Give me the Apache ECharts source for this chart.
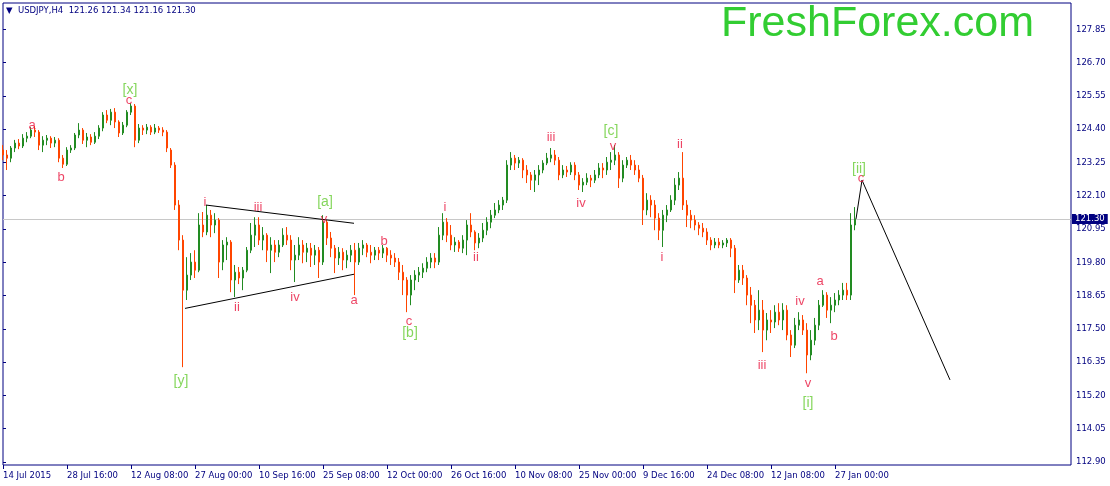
<!DOCTYPE html>
<html><head><meta charset="utf-8">
<script src="https://cdn.jsdelivr.net/npm/echarts@6/dist/echarts.min.js"></script>
<style>html,body{margin:0;padding:0;background:#fff}#c{width:1110px;height:486px}</style>
</head><body><div id="c"></div><script>
// ---- data ----
const xTickLabels = ['14 Jul 2015','28 Jul 16:00','12 Aug 08:00','27 Aug 00:00','10 Sep 16:00','25 Sep 08:00','12 Oct 00:00','26 Oct 16:00','10 Nov 08:00','25 Nov 00:00','9 Dec 16:00','24 Dec 08:00','12 Jan 08:00','27 Jan 00:00'];
const yTickLabels = ['112.90','114.05','115.20','116.35','117.50','118.65','119.80','120.95','122.10','123.25','124.40','125.55','126.70','127.85'];
const yTickStep = 1.15;
const barsPerLabel = 16;
const totalSlots = 268;
const lastPrice = 121.30;
const headerText = 'USDJPY,H4  121.26 121.34 121.16 121.30';

const opens = [123.68,123.51,123.40,123.75,123.92,123.82,124.09,124.16,124.37,124.30,
123.85,124.02,124.09,123.92,124.02,123.40,123.19,123.68,123.75,124.20,
124.37,124.02,124.13,123.95,124.16,124.44,124.89,124.71,124.99,124.65,
124.27,124.54,124.99,125.20,124.02,124.44,124.37,124.47,124.30,124.44,
124.37,124.30,123.68,123.16,121.78,120.57,118.84,119.36,119.81,119.53,
121.09,120.85,121.43,121.09,121.26,119.81,120.40,120.50,119.19,119.46,
119.26,119.53,120.22,120.74,121.09,120.57,120.74,120.22,120.40,120.15,
120.40,120.74,120.57,119.88,120.05,120.40,120.15,120.29,120.05,120.22,
119.81,121.19,120.64,120.29,119.95,120.15,119.88,120.05,120.22,119.81,
120.29,120.40,120.15,120.05,120.22,120.12,120.29,120.05,119.95,119.81,
119.46,119.19,118.67,119.19,119.36,119.46,119.60,119.81,119.95,119.81,
120.74,121.19,120.74,120.40,120.50,120.29,120.57,121.09,120.85,120.47,
120.64,120.91,121.19,121.43,121.61,121.78,121.95,123.16,123.40,123.23,
123.33,122.99,122.82,122.64,122.82,122.99,123.23,123.40,123.51,123.33,
122.82,122.99,122.92,123.16,122.82,122.47,122.57,122.71,122.64,122.82,
123.06,122.99,123.26,123.33,123.51,122.71,123.16,123.33,123.16,122.99,
122.71,121.61,121.95,121.78,121.33,120.91,121.43,121.61,121.95,122.47,
122.71,121.78,121.43,121.26,121.09,120.98,120.85,120.57,120.40,120.50,
120.40,120.47,120.57,120.29,119.19,119.53,119.26,118.67,118.32,117.81,
118.15,117.46,117.81,117.74,118.08,117.81,118.15,117.29,116.94,117.63,
117.81,117.46,116.60,117.11,117.63,118.32,118.67,118.15,118.32,118.50,
118.67,118.84,118.67,121.09];
const closes = [123.51,123.40,123.75,123.92,123.82,124.09,124.16,124.37,124.30,123.85,
124.02,124.09,123.92,124.02,123.40,123.19,123.68,123.75,124.20,124.37,
124.02,124.13,123.95,124.16,124.44,124.89,124.71,124.99,124.65,124.27,
124.54,124.99,125.20,124.02,124.44,124.37,124.47,124.30,124.44,124.37,
124.30,123.75,123.16,121.78,120.57,118.84,119.36,119.81,119.53,121.09,
120.85,121.43,121.09,121.26,119.81,120.40,120.50,119.19,119.46,119.26,
119.53,120.22,120.74,121.09,120.57,120.74,120.22,120.40,120.15,120.40,
120.74,120.57,119.88,120.05,120.40,120.15,120.29,120.05,120.22,119.81,
121.19,120.64,120.29,119.95,120.15,119.88,120.05,120.22,119.81,120.29,
120.40,120.15,120.05,120.22,120.12,120.29,120.05,119.95,119.81,119.46,
119.19,118.67,119.19,119.36,119.46,119.60,119.81,119.95,119.81,120.74,
121.19,120.74,120.40,120.50,120.29,120.57,121.09,120.85,120.47,120.64,
120.91,121.19,121.43,121.61,121.78,121.95,123.16,123.40,123.23,123.33,
122.99,122.82,122.64,122.82,122.99,123.23,123.40,123.51,123.33,122.82,
122.99,122.92,123.16,122.82,122.47,122.57,122.71,122.64,122.82,123.06,
122.99,123.26,123.33,123.51,122.71,123.16,123.33,123.16,122.99,122.71,
121.61,121.95,121.78,121.33,120.91,121.43,121.61,121.95,122.47,122.71,
121.78,121.43,121.26,121.09,120.98,120.85,120.57,120.40,120.50,120.40,
120.47,120.57,120.29,119.19,119.53,119.26,118.67,118.32,117.81,118.15,
117.46,117.81,117.74,118.08,117.81,118.15,117.29,116.94,117.63,117.81,
117.46,116.60,117.11,117.63,118.32,118.67,118.15,118.32,118.50,118.67,
118.84,118.67,121.09,121.30];
const lows = [123.33,122.99,123.26,123.61,123.71,123.75,123.95,124.09,124.13,123.68,
123.61,123.85,123.75,123.78,123.26,123.06,123.13,123.58,123.68,124.09,
123.89,123.78,123.85,123.89,124.06,124.33,124.61,124.54,124.44,124.13,
124.20,124.47,124.89,123.78,123.92,124.20,124.23,124.20,124.23,124.27,
124.16,123.61,123.06,121.61,120.22,116.18,118.50,119.19,119.26,119.46,
120.67,120.74,120.67,120.81,119.26,119.53,119.88,118.77,118.60,119.05,
118.84,119.46,120.12,120.33,120.40,120.22,119.81,119.43,119.81,119.98,
120.33,120.40,119.53,119.12,119.88,119.77,119.81,119.64,119.71,119.26,
119.71,120.40,119.98,119.43,119.71,119.53,119.60,119.81,118.67,119.71,
120.05,119.98,119.77,119.88,119.88,119.95,119.81,119.71,119.64,119.19,
118.67,118.08,118.32,118.84,119.12,119.26,119.46,119.60,119.60,119.71,
120.57,120.50,120.22,120.16,120.16,120.12,120.05,120.67,120.22,120.29,
120.50,120.74,120.98,121.33,121.50,121.61,121.85,122.99,122.99,123.06,
122.71,122.54,122.30,122.23,122.47,122.88,123.16,123.26,123.16,122.64,
122.71,122.75,122.82,122.64,122.30,122.23,122.47,122.40,122.54,122.71,
122.71,122.82,122.99,123.16,122.37,122.57,123.06,122.99,122.82,122.57,
121.09,121.43,121.36,120.91,120.57,120.33,121.19,121.54,121.78,122.30,
121.61,121.02,120.98,120.91,120.74,120.67,120.40,120.22,120.29,120.29,
120.29,120.33,119.98,118.74,119.09,119.02,118.32,117.70,117.36,117.46,
116.70,117.11,117.36,117.53,117.63,117.46,117.11,116.53,116.84,117.46,
117.29,115.97,116.42,116.94,117.46,118.26,117.88,117.70,118.08,118.32,
118.50,118.50,118.50,120.91];
const highs = [123.85,123.68,123.82,124.03,124.06,124.23,124.30,124.47,124.51,124.37,
124.16,124.20,124.16,124.13,124.09,123.51,123.78,123.85,124.27,124.61,
124.44,124.27,124.23,124.30,124.54,124.99,125.06,125.10,125.13,124.71,
124.65,125.06,125.30,125.27,124.58,124.54,124.58,124.54,124.58,124.51,
124.47,124.37,123.75,123.26,121.95,120.74,119.98,120.12,120.22,121.50,
121.54,121.78,121.61,121.50,121.33,120.57,120.67,120.57,119.71,119.64,
119.64,120.33,121.16,121.36,121.36,121.02,120.81,120.67,120.57,120.57,
120.98,121.02,120.74,120.40,120.67,120.57,120.47,120.47,120.40,120.33,
121.43,121.26,120.85,120.40,120.33,120.29,120.22,120.40,120.47,120.47,
120.57,120.47,120.40,120.33,120.33,120.40,120.33,120.22,120.12,119.95,
119.71,119.29,119.36,119.53,119.64,119.77,119.98,120.12,120.12,121.02,
121.50,121.33,121.09,120.67,120.57,120.74,121.26,121.50,120.91,120.81,
121.16,121.36,121.61,121.85,121.95,122.06,123.33,123.61,123.51,123.44,
123.40,123.16,122.92,122.99,123.16,123.33,123.58,123.75,123.68,123.44,
123.16,123.13,123.26,123.26,122.92,122.71,122.88,122.82,122.99,123.23,
123.23,123.44,123.61,123.85,123.61,123.33,123.44,123.51,123.33,123.16,
122.82,122.19,122.12,121.95,121.50,121.61,121.78,122.12,122.71,122.92,
123.61,121.95,121.61,121.43,121.19,121.16,120.98,120.67,120.64,120.64,
120.57,120.64,120.64,120.40,119.71,119.71,119.36,118.95,118.50,118.84,
118.50,118.05,118.15,118.32,118.39,118.39,118.32,117.46,117.88,118.08,
117.98,117.70,117.46,117.88,118.50,118.84,118.77,118.60,118.74,118.84,
119.09,119.09,121.50,121.71];

// wave annotations: [bar position, price, text]
const redWaveLabels = [
 [7.25,124.54,'a'],[14.5,122.75,'b'],[31.5,125.41,'c'],
 [50.5,121.88,'i'],[58.5,118.26,'ii'],[63.75,121.71,'iii'],[73,118.60,'iv'],[80.25,121.30,'v'],
 [87.75,118.50,'a'],[95.25,120.53,'b'],[101.5,117.77,'c'],
 [110.5,121.71,'i'],[118.25,119.98,'ii'],[137,124.13,'iii'],[144.5,121.85,'iv'],[152.5,123.82,'v'],
 [164.75,119.98,'i'],[169.25,123.89,'ii'],[189.75,116.25,'iii'],[199.25,118.46,'iv'],[201.25,115.63,'v'],
 [204.25,119.15,'a'],[207.75,117.25,'b'],[214.5,122.71,'c']
];
const greenWaveLabels = [
 [31.75,125.75,'[x]'],[44.5,115.70,'[y]'],[80.5,121.88,'[a]'],[101.75,117.36,'[b]'],
 [152,124.34,'[c]'],[201.25,114.94,'[i]'],[214,123.02,'[ii]']
];
const triangleUpper = [[50.75,121.78],[87.75,121.15]];
const triangleLower = [[45.5,118.21],[87.75,119.39]];
const projection = [[213.25,121.30],[214.75,122.64],[236.75,115.74]];

// ---- build ----
const categories = Array.from({length: totalSlots}, (_, i) =>
  (i % barsPerLabel === 0 && i / barsPerLabel < xTickLabels.length) ? xTickLabels[i / barsPerLabel] : 'bar' + i);
const showTick = (i) => i % barsPerLabel === 0 && i / barsPerLabel < xTickLabels.length;
const candles = opens.map((o, i) => [o, closes[i], lows[i], highs[i]]);
const yVals = yTickLabels.map(Number);
const navy = '#000080';
const axisFont = {fontFamily: 'DejaVu Sans', fontSize: 8.5, color: navy};

const labelSeries = (arr, color, size) => ({
  type: 'scatter', xAxisIndex: 1, symbolSize: 1, itemStyle: {color: 'rgba(0,0,0,0)'},
  data: arr.map(d => [d[0], d[1], d[2]]), silent: true, z: 5,
  label: {show: true, position: 'inside', formatter: p => p.value[2],
    color: color, fontFamily: 'Liberation Sans', fontSize: size}
});
const lineSeries = (pts) => ({
  type: 'line', xAxisIndex: 1, data: pts, symbol: 'none', silent: true, z: 4,
  lineStyle: {color: '#000', width: 1}
});

const chart = echarts.init(document.getElementById('c'), null, {renderer: 'canvas'});
chart.setOption({
  animation: false,
  backgroundColor: '#fff',
  title: [
    {text: '▼  ' + headerText, left: 6, top: 6, padding: 0,
     textStyle: {fontFamily: 'DejaVu Sans', fontSize: 8.5, fontWeight: 'normal', color: navy}},
    {text: 'FreshForex.com', left: 721, top: 3, padding: 0,
     textStyle: {fontFamily: 'Liberation Sans', fontSize: 43, fontWeight: 'normal', color: '#32cd32'}}
  ],
  grid: [
    {left: 3, right: 39, top: 3, bottom: 21, show: true, borderColor: navy, borderWidth: 1, backgroundColor: '#fff'},
    {left: 3, right: 39, top: 29.3, bottom: 24, show: false}
  ],
  xAxis: [
    {type: 'category', data: categories, boundaryGap: false,
     axisLine: {show: false},
     axisTick: {show: true, interval: showTick, length: 4, lineStyle: {color: navy}},
     axisLabel: Object.assign({interval: showTick, align: 'left', margin: 6, hideOverlap: false}, axisFont),
     splitLine: {show: false}},
    {type: 'value', min: 0, max: totalSlots - 1, show: false},
    {type: 'value', gridIndex: 1, min: 0, max: 1, show: false}
  ],
  yAxis: [
    {type: 'value', position: 'right', min: 112.80, max: 128.76, scale: true,
     axisLine: {show: false}, axisTick: {show: false},
     axisLabel: Object.assign({customValues: yVals, formatter: v => Number(v).toFixed(2), margin: 5}, axisFont),
     splitLine: {show: false}},
    {type: 'value', gridIndex: 1, position: 'right', min: yVals[0], max: yVals[yVals.length - 1], interval: yTickStep,
     axisLine: {show: false}, axisLabel: {show: false},
     axisTick: {show: true, length: 3, lineStyle: {color: navy}},
     splitLine: {show: false}}
  ],
  series: [
    {type: 'candlestick', data: candles, barWidth: 2, z: 3,
     itemStyle: {color: '#228b22', color0: '#ff4500', borderColor: '#228b22', borderColor0: '#ff4500', borderWidth: 1},
     markLine: {symbol: ['none', 'none'], silent: true, z: 1,
       lineStyle: {color: '#c8c8c8', width: 1, type: 'solid'},
       label: {show: true, position: 'end', formatter: lastPrice.toFixed(2), backgroundColor: navy, color: '#fff',
         padding: [1, 3, 0, 3], fontFamily: 'DejaVu Sans', fontSize: 8.5, distance: 1},
       data: [{yAxis: lastPrice}]}},
    lineSeries(triangleUpper),
    lineSeries(triangleLower),
    lineSeries(projection),
    labelSeries(redWaveLabels, '#e8173f', 13),
    labelSeries(greenWaveLabels, '#66cc33', 14)
  ]
});
</script></body></html>
